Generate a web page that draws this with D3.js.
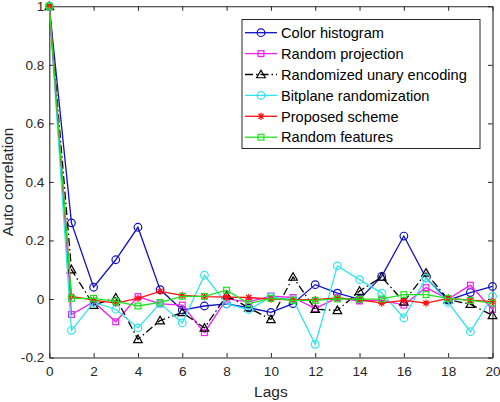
<!DOCTYPE html>
<html><head><meta charset="utf-8">
<script src="https://cdn.jsdelivr.net/npm/d3@7"></script>
<style>body{margin:0;background:#fff}svg{display:block}</style>
</head><body>
<svg id="c" width="500" height="402"></svg>
<script>
const lags = d3.range(0, 21);
const seriesNames = ["Color histogram","Random projection","Randomized unary encoding","Bitplane randomization","Proposed scheme","Random features"];
const colorHistogram = [1,0.26,0.04,0.134,0.245,0.032,-0.038,-0.024,-0.017,-0.03,-0.046,-0.016,0.049,0.02,-0.001,0.077,0.215,0.072,-0.004,0.022,0.043];
const randomProjection = [1,-0.053,-0.01,-0.078,0.008,-0.017,-0.021,-0.115,0.0,-0.01,0.01,0.005,-0.033,0.004,-0.007,-0.004,-0.021,0.039,0.0,0.047,-0.036];
const randomizedUnary = [1,0.1,-0.021,0.004,-0.138,-0.074,-0.046,-0.099,0.012,-0.03,-0.07,0.075,-0.035,-0.039,0.027,0.075,-0.01,0.089,-0.002,-0.018,-0.056];
const bitplane = [1,-0.107,-0.012,-0.035,-0.099,-0.015,-0.082,0.081,-0.017,-0.036,0.006,-0.002,-0.155,0.113,0.066,0.02,-0.065,0.072,-0.012,-0.112,0.009];
const proposed = [1,0.009,-0.004,-0.014,0.002,0.026,0.012,0.008,0.006,0.005,-0.001,-0.002,-0.002,0.004,-0.002,-0.014,-0.005,-0.014,0.002,-0.004,-0.009];
const randomFeatures = [1,0.002,0.002,-0.008,-0.024,-0.012,0.009,0.009,0.03,-0.016,0.002,-0.005,-0.005,0.0,-0.001,0.0,0.015,0.015,0.002,-0.005,-0.014];
const xTicks = d3.range(0, 21, 2);
const yTicks = [-0.2, 0, 0.2, 0.4, 0.6, 0.8, 1];
const yTickLabels = ["-0.2","0","0.2","0.4","0.6","0.8","1"];

const allValues = [colorHistogram, randomProjection, randomizedUnary, bitplane, proposed, randomFeatures];
const colors = ["#1010c8","#f020f0","#000000","#30e4ec","#ff1010","#20e020"];
const markers = ["circle","square","triangle","circle","star","square"];
const dashes = [null,null,"8,3,1.5,3",null,null,null];

const svg = d3.select("#c");
const L = 49.3, R = 492.5, T = 6.3, B = 357.5;
const x = d3.scaleLinear().domain([0,20]).range([L,R]);
const y = d3.scaleLinear().domain([-0.2,1]).range([B,T]);
const font = "'Liberation Sans', Arial, sans-serif";
const axisColor = "#262626";

// axes
const gx = svg.append("g").attr("transform",`translate(0,${B})`)
  .call(d3.axisBottom(x).tickValues(xTicks).tickSizeInner(-4.5).tickSizeOuter(0).tickPadding(9));
const gxt = svg.append("g").attr("transform",`translate(0,${T})`)
  .call(d3.axisTop(x).tickValues(xTicks).tickSizeInner(-4.5).tickSizeOuter(0).tickFormat(""));
const gy = svg.append("g").attr("transform",`translate(${L},0)`)
  .call(d3.axisLeft(y).tickValues(yTicks).tickSizeInner(-4.5).tickSizeOuter(0).tickPadding(5)
    .tickFormat((d,i)=>yTickLabels[i]));
const gyr = svg.append("g").attr("transform",`translate(${R},0)`)
  .call(d3.axisRight(y).tickValues(yTicks).tickSizeInner(-4.5).tickSizeOuter(0).tickFormat(""));
[gx,gxt,gy,gyr].forEach(g=>{
  g.selectAll("path").attr("stroke",axisColor).attr("stroke-width",1.1);
  g.selectAll("line").attr("stroke",axisColor).attr("stroke-width",1);
  g.selectAll("text").attr("font-family",font).attr("font-size",13.6).attr("fill","#262626");
});

svg.append("text").attr("x",(L+R)/2).attr("y",397).attr("text-anchor","middle")
  .attr("font-family",font).attr("font-size",15.5).attr("fill","#262626").text("Lags");
svg.append("text").attr("transform",`translate(13,${(T+B)/2}) rotate(-90)`).attr("text-anchor","middle")
  .attr("font-family",font).attr("font-size",15.5).attr("fill","#262626").text("Auto correlation");

function drawMarker(g, type, cx, cy, color){
  if(type==="circle"){
    g.append("circle").attr("cx",cx).attr("cy",cy).attr("r",3.8).attr("fill","none").attr("stroke",color).attr("stroke-width",1.2);
  } else if(type==="square"){
    g.append("rect").attr("x",cx-2.9).attr("y",cy-2.9).attr("width",5.8).attr("height",5.8).attr("fill","none").attr("stroke",color).attr("stroke-width",1.2);
  } else if(type==="triangle"){
    const s=4.3;
    g.append("path").attr("d",`M${cx},${cy-s}L${cx+s},${cy+s*0.75}L${cx-s},${cy+s*0.75}Z`).attr("fill","none").attr("stroke",color).attr("stroke-width",1.2);
  } else if(type==="star"){
    const s=3.6;
    let d="";
    for(let k=0;k<4;k++){const a=k*Math.PI/4;d+=`M${cx-s*Math.cos(a)},${cy-s*Math.sin(a)}L${cx+s*Math.cos(a)},${cy+s*Math.sin(a)}`;}
    g.append("path").attr("d",d).attr("stroke",color).attr("stroke-width",1.2).attr("fill","none");
  }
}

const line = d3.line().x((d,i)=>x(lags[i])).y(d=>y(d));
const plot = svg.append("g");
allValues.forEach((vals,si)=>{
  const g = plot.append("g");
  g.append("path").datum(vals).attr("d",line).attr("fill","none")
    .attr("stroke",colors[si]).attr("stroke-width",1.3)
    .attr("stroke-dasharray",dashes[si]);
  vals.forEach((v,i)=>drawMarker(g, markers[si], x(lags[i]), y(v), colors[si]));
});

// legend
const lg = svg.append("g");
lg.append("rect").attr("x",242).attr("y",19.5).attr("width",238).attr("height",129)
  .attr("fill","#fff").attr("stroke",axisColor).attr("stroke-width",1);
seriesNames.forEach((name,i)=>{
  const yy = 32.7 + i*20.9;
  lg.append("line").attr("x1",245).attr("x2",277).attr("y1",yy).attr("y2",yy)
    .attr("stroke",colors[i]).attr("stroke-width",1.3).attr("stroke-dasharray",dashes[i]);
  drawMarker(lg, markers[i], 261, yy, colors[i]);
  lg.append("text").attr("x",281).attr("y",yy+5.2).attr("font-family",font).attr("font-size",14.6)
    .attr("fill","#000").text(name);
});
</script>
</body></html>
